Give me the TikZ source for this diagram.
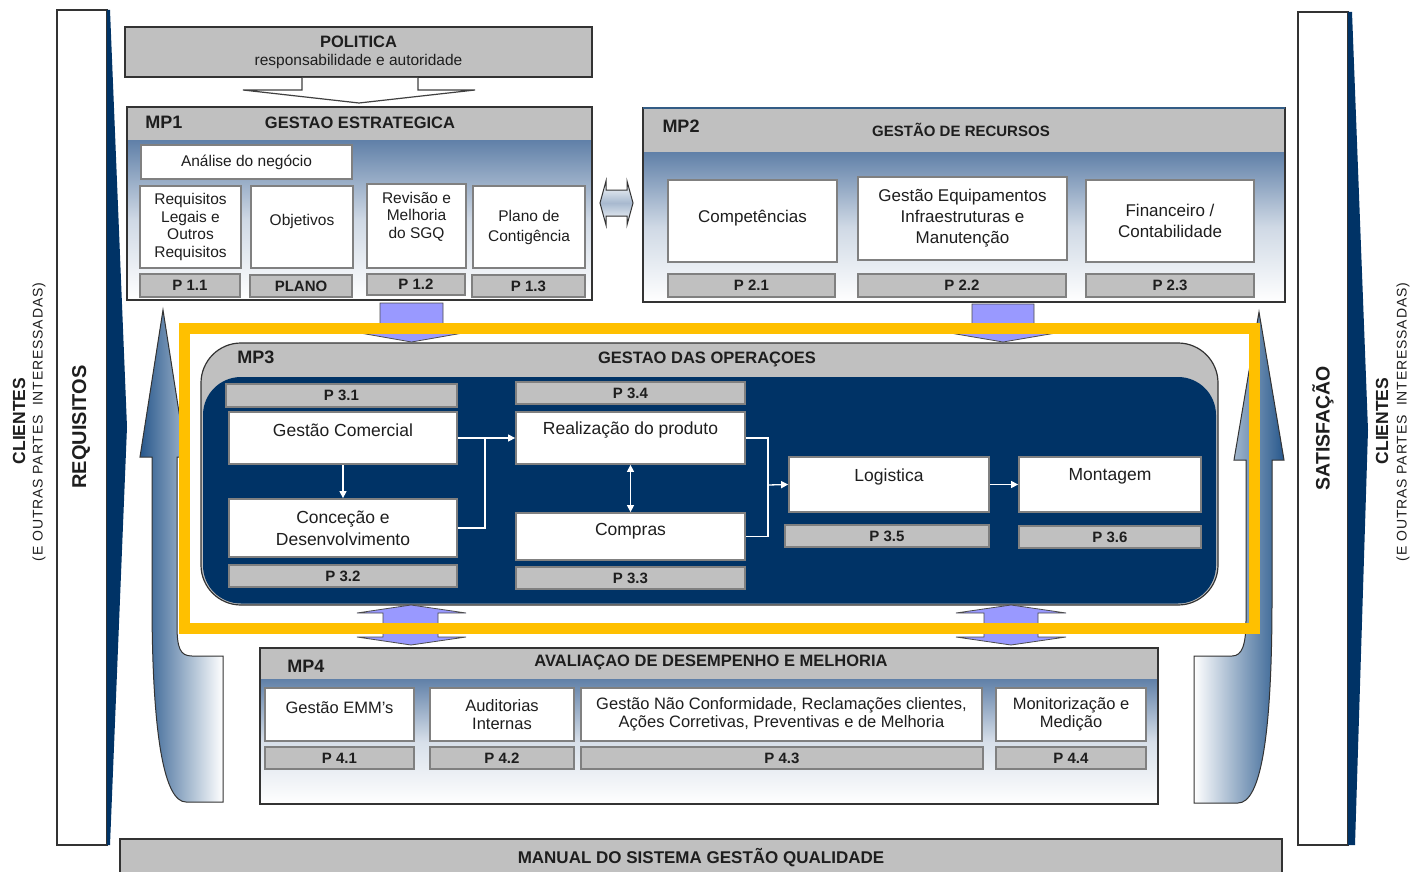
\documentclass[tikz,border=0pt]{standalone}
\usepackage{fontspec}
\setmainfont{Liberation Sans}
\usetikzlibrary{arrows.meta}
\definecolor{hdr}{RGB}{192,192,192}
\definecolor{navy}{RGB}{0,51,102}
\definecolor{gold}{RGB}{255,192,0}
\definecolor{lav}{RGB}{153,153,255}
\definecolor{bodyblue}{RGB}{96,128,168}
\definecolor{sideblue}{RGB}{40,88,140}
\definecolor{edge}{RGB}{128,128,128}
\definecolor{ink}{RGB}{30,30,30}
\newcommand\fs[2]{\fontsize{#1}{#2}\selectfont}
\newcommand\up[2]{\raisebox{#1}[\height][\depth]{#2}}
\newcommand\bx[7][]{\node[#2,minimum width={(#5-#3)*1pt},minimum height={(#6-#4)*1pt},#1] (#7) at ({(#3+#5)/2},{(#4+#6)/2})}
\tikzset{
 wbox/.style={draw=edge, line width=1.8pt, fill=white, inner sep=0pt, align=center, text=ink},
 pbox/.style={draw=edge, line width=1.2pt, fill=hdr, inner sep=0pt, text=ink, font=\fs{15}{15}\bfseries},
 frame/.style={draw=black!80, line width=1.2pt, inner sep=0pt},
 htxt/.style={text=ink, font=\fs{16.5}{18}\bfseries, inner sep=0pt},
 idtxt/.style={text=ink, font=\fs{18}{18}\bfseries, inner sep=0pt},
 wline/.style={draw=white, line width=1.3pt},
 wtip/.style={-{Triangle[width=7pt,length=7pt]}},
 lavarrow/.style={fill=lav, draw=black!70, line width=0.8pt},
 sidepanel/.style={draw=black!80, line width=1.2pt, fill=white, inner sep=0pt},
 vtxt/.style={rotate=90, text=ink, inner sep=0pt},
 t1/.style={font=\fs{15.5}{17.5}},
 t2/.style={font=\fs{17}{21}},
 t3/.style={font=\fs{17.5}{22}},
 t4/.style={font=\fs{16.5}{18}}
}
\begin{document}
\begin{tikzpicture}[x=1pt,y=-1pt]
\useasboundingbox (0,0) rectangle (1422,872);
\fill[white] (0,0) rectangle (1422,872);

% side panels
\bx{sidepanel}{57}{10}{107}{845}{lpanel}{};
\fill[navy] (107,10) -- (110,10) -- (127,427) -- (110,845) -- (107,845) -- cycle;
\bx{sidepanel}{1298}{12}{1348}{845}{rpanel}{};
\fill[navy] (1348,12) -- (1352,12) -- (1368,430) -- (1355,845) -- (1348,845) -- cycle;

\node[vtxt, font=\fs{17.5}{18}\bfseries] (cliL) at (19,421) {CLIENTES};
\node[vtxt, font=\fs{14}{14}\addfontfeatures{LetterSpace=6}] (cliLs) at (39,422) {(E OUTRAS PARTES~ INTERESSADAS)};
\node[vtxt, font=\fs{20}{20}\bfseries] (req) at (81,427) {REQUISITOS};
\node[vtxt, font=\fs{19.5}{20}\bfseries] (sat) at (1323,428) {SATISFAÇÃO};
\node[vtxt, font=\fs{17.5}{18}\bfseries] (cliR) at (1382,421) {CLIENTES};
\node[vtxt, font=\fs{14}{14}\addfontfeatures{LetterSpace=6}] (cliRs) at (1403,422) {(E OUTRAS PARTES~ INTERESSADAS)};

% big side arrows
\shadedraw[left color=sideblue, right color=white, draw=black!80, line width=1pt]
 (163,310) -- (186,457) -- (177,457) -- (177,625) .. controls (177,648) and (180,656) .. (192,656)
 -- (223,656) -- (223,802) -- (186,802) .. controls (165,802) and (152,740) .. (152,600)
 -- (152,457) -- (140,457) -- cycle;
\shadedraw[left color=white, right color=sideblue, draw=black!80, line width=1pt]
 (1259,312) -- (1284,460) -- (1272,460) -- (1272,600) .. controls (1272,740) and (1260,803) .. (1238,803)
 -- (1194,803) -- (1194,656) -- (1232,656) .. controls (1242,656) and (1246,645) .. (1246,620)
 -- (1246,460) -- (1234,460) -- cycle;

% POLITICA
\bx[fill=hdr, align=center, text=ink, font=\fs{16.5}{18}]{frame}{125}{27}{592}{77}{pol}{\textbf{POLITICA}\\{\fs{15.5}{18}responsabilidade e autoridade}};
\filldraw[fill=white, draw=black!75, line width=1.2pt] (302,78) -- (302,90) -- (243,90) -- (359,103) -- (475,90) -- (418,90) -- (418,78);

% MP1
\shade[top color=bodyblue, bottom color=white, middle color=bodyblue!30!white] (127,140) rectangle (592,300);
\fill[hdr] (127,107) rectangle (592,140);
\bx{frame}{127}{107}{592}{300}{mp1}{};
\node[idtxt] (mp1id) at (164,122) {MP1};
\node[htxt] (mp1tt) at (360,123) {GESTAO ESTRATEGICA};
\bx[t1]{wbox}{141}{145}{352}{179}{an}{Análise do negócio};
\bx[t1]{wbox}{140}{186}{241}{268}{rq}{Requisitos\\Legais e\\Outros\\Requisitos};
\bx[t1]{wbox}{251}{186}{353}{268}{ob}{\up{6pt}{Objetivos}};
\bx[t1]{wbox}{367}{184}{466}{268}{rv}{\up{9pt}{\begin{tabular}{@{}c@{}}Revisão e\\Melhoria\\do SGQ\end{tabular}}};
\bx[t1, font=\fs{15.5}{20}]{wbox}{473}{186}{585}{268}{pc}{Plano de\\Contigência};
\bx{pbox}{140}{274}{240}{297}{p11}{P 1.1};
\bx{pbox}{250}{275}{352}{297}{plano}{PLANO};
\bx{pbox}{367}{274}{465}{295}{p12}{P 1.2};
\bx{pbox}{472}{275}{585}{297}{p13}{P 1.3};

% MP1 <-> MP2
\shadedraw[top color=white, bottom color=white, middle color=bodyblue!55!white, draw=black!80, line width=1pt]
 (600,203) -- (606,181) -- (606,190) -- (627,190) -- (627,181) -- (633,203) -- (627,225) -- (627,216) -- (606,216) -- (606,225) -- cycle;

% MP2
\shade[top color=bodyblue, bottom color=white, middle color=bodyblue!30!white] (643,152) rectangle (1285,302);
\fill[hdr] (643,108) rectangle (1285,152);
\bx{frame}{643}{108}{1285}{302}{mp2}{};
\draw[navy!80, line width=2pt] (643,108) -- (1285,108);
\node[idtxt] (mp2id) at (681,126) {MP2};
\node[htxt, font=\fs{15}{15}\bfseries] (mp2tt) at (961,130) {GESTÃO DE RECURSOS};
\bx[t2]{wbox}{668}{180}{837}{262}{co}{\up{3pt}{Competências}};
\bx[t2]{wbox}{858}{177}{1067}{260}{ge}{Gestão Equipamentos\\Infraestruturas e\\Manutenção};
\bx[t2]{wbox}{1086}{180}{1254}{262}{fi}{Financeiro /\\Contabilidade};
\bx{pbox}{668}{274}{835}{297}{p21}{P 2.1};
\bx{pbox}{858}{274}{1066}{297}{p22}{P 2.2};
\bx{pbox}{1086}{274}{1254}{297}{p23}{P 2.3};

% MP3
\bx[rounded corners=40pt, fill=hdr]{frame}{201}{343}{1218}{605}{mp3}{};
\fill[navy, rounded corners=38pt] (203,377) rectangle (1216,603.5);
\node[idtxt] (mp3id) at (256,357) {MP3};
\node[htxt] (mp3tt) at (707,359) {GESTAO DAS OPERAÇOES};
\bx{pbox}{226}{384}{457}{407}{p31}{P 3.1};
\bx[t3]{wbox}{229}{412}{457}{464}{gc}{\up{8pt}{Gestão Comercial}};
\bx[t3]{wbox}{229}{499}{457}{557}{cd}{Conceção e\\Desenvolvimento};
\bx{pbox}{229}{565}{457}{587}{p32}{P 3.2};
\bx{pbox}{516}{382}{745}{404}{p34}{P 3.4};
\bx[t3]{wbox}{516}{412}{745}{464}{rp}{\up{8pt}{Realização do produto}};
\bx[t3]{wbox}{516}{513}{745}{560}{cp}{\up{5pt}{Compras}};
\bx{pbox}{516}{567}{745}{589}{p33}{P 3.3};
\bx[t3]{wbox}{789}{457}{989}{512}{lg}{\up{8pt}{Logistica}};
\bx[t3]{wbox}{1019}{457}{1201}{512}{mt}{\up{8pt}{Montagem}};
\bx{pbox}{785}{525}{989}{547}{p35}{P 3.5};
\bx{pbox}{1019}{526}{1201}{548}{p36}{P 3.6};

\coordinate (j1) at (485,438);
\coordinate (j2) at (768,485);
\draw[wline, wtip] (gc.south) -- (cd.north);
\draw[wline] (gc.east) -- (j1);
\draw[wline] (cd.east) -| (j1);
\draw[wline, wtip] (j1) -- (rp.west);
\draw[wline, {Triangle[width=7pt,length=7pt]}-{Triangle[width=7pt,length=7pt]}] (rp.south) -- (cp.north);
\draw[wline] (rp.east) -| (j2);
\draw[wline] (cp.east) -| (j2);
\draw[wline, wtip] (j2) -- (lg.west);
\draw[wline, wtip] (lg.east) -- (mt.west);

% MP4
\shade[top color=bodyblue, bottom color=white, middle color=bodyblue!25!white] (260,679) rectangle (1158,804);
\fill[hdr] (260,648) rectangle (1158,679);
\bx{frame}{260}{648}{1158}{804}{mp4}{};
\node[idtxt] (mp4id) at (306,666) {MP4};
\node[htxt] (mp4tt) at (711,662) {AVALIAÇAO DE DESEMPENHO E MELHORIA};
\bx[t4]{wbox}{265}{688}{414}{741}{em}{\up{7pt}{Gestão EMM’s}};
\bx[t4]{wbox}{430}{688}{574}{741}{au}{Auditorias\\Internas};
\bx[t4]{wbox}{581}{688}{982}{741}{nc}{Gestão Não Conformidade, Reclamações clientes,\\Ações Corretivas, Preventivas e de Melhoria};
\bx[t4]{wbox}{996}{688}{1146}{741}{mo}{Monitorização e\\Medição};
\bx{pbox}{265}{747}{414}{769}{p41}{P 4.1};
\bx{pbox}{430}{747}{574}{769}{p42}{P 4.2};
\bx{pbox}{581}{747}{983}{769}{p43}{P 4.3};
\bx{pbox}{996}{747}{1146}{769}{p44}{P 4.4};

% lavender block arrows
\filldraw[lavarrow] (380,303) -- (380,333) -- (360,333) -- (411.5,342) -- (463,333) -- (443,333) -- (443,303) -- cycle;
\filldraw[lavarrow] (972,304) -- (972,333) -- (950,333) -- (1003,342) -- (1056,333) -- (1034,333) -- (1034,304) -- cycle;
\filldraw[lavarrow] (411,605) -- (466,613) -- (438,613) -- (438,637) -- (466,637) -- (411,645) -- (357,637) -- (383,637) -- (383,613) -- (357,613) -- cycle;
\filldraw[lavarrow] (1011,605) -- (1066,613) -- (1038,613) -- (1038,637) -- (1066,637) -- (1011,645) -- (956,637) -- (984,637) -- (984,613) -- (956,613) -- cycle;

% MANUAL
\bx[fill=hdr, text=ink, font=\fs{17}{17}\bfseries]{frame}{120}{839}{1282}{900}{man}{\up{12pt}{MANUAL DO SISTEMA GESTÃO QUALIDADE}};

% highlight frame
\bx{draw=gold, line width=11pt, inner sep=0pt}{184}{328}{1254}{628}{hl}{};
\end{tikzpicture}
\end{document}
